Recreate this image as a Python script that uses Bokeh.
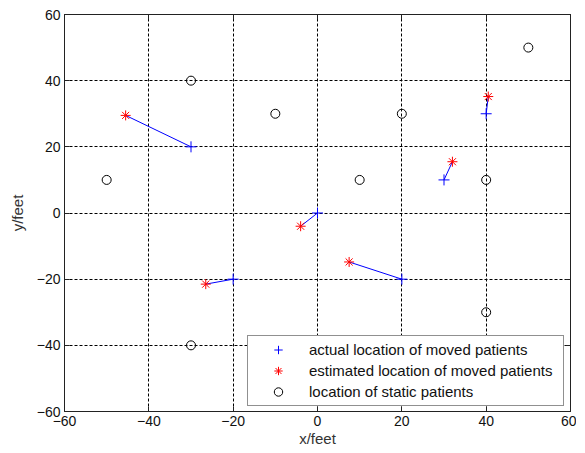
from bokeh.plotting import figure
from bokeh.models import LinearAxis, Legend, LegendItem, FixedTicker, Range1d
from bokeh.embed import file_html
from bokeh.resources import INLINE

# actual locations of moved patients
act_x = [-30, -20, 0, 20, 30, 40]
act_y = [20, -20, 0, -20, 10, 30]
# estimated locations of moved patients
est_x = [-45.5, -26.5, -4, 7.5, 32, 40.5]
est_y = [29.5, -21.5, -4, -14.8, 15.5, 35.2]
# static patients
sta_x = [-30, -10, 20, 50, -50, 10, 40, 40, -30]
sta_y = [40, 30, 30, 50, 10, 10, 10, -30, -40]

ticks = [-60, -40, -20, 0, 20, 40, 60]
FONT = "Liberation Sans"

p = figure(width=576, height=449, output_backend="svg", toolbar_location=None,
           x_range=Range1d(-60, 60), y_range=Range1d(-60, 60),
           min_border_left=64, min_border_right=6, min_border_top=14, min_border_bottom=37)
p.background_fill_color = "white"
p.border_fill_color = "white"
p.outline_line_color = "#222222"
p.outline_line_width = 1

for ax in [p.xaxis[0], p.yaxis[0]]:
    ax.ticker = FixedTicker(ticks=ticks)
    ax.major_tick_in = 5
    ax.major_tick_out = 0
    ax.minor_tick_line_color = None
    ax.axis_line_color = "#222222"
    ax.major_tick_line_color = "#222222"
    ax.major_label_text_font = FONT
    ax.major_label_text_font_size = "14px"
    ax.major_label_text_color = "#111111"
    ax.axis_label_text_font = FONT
    ax.axis_label_text_font_size = "15px"
    ax.axis_label_text_font_style = "normal"
    ax.axis_label_text_color = "#333333"
    ax.major_label_standoff = 4

p.xaxis[0].axis_label = "x/feet"
p.xaxis[0].axis_label_standoff = 1
p.yaxis[0].axis_label = "y/feet"
p.yaxis[0].axis_label_standoff = 8

for loc in ["above", "right"]:
    a = LinearAxis(ticker=FixedTicker(ticks=ticks), major_label_text_font_size="0px",
                   major_tick_in=5, major_tick_out=0, minor_tick_line_color=None,
                   axis_line_color="#222222", major_tick_line_color="#222222",
                   major_label_standoff=0)
    a.major_label_overrides = {t: "" for t in ticks}
    p.add_layout(a, loc)

p.xgrid.ticker = FixedTicker(ticks=ticks)
p.ygrid.ticker = FixedTicker(ticks=ticks)
for g in [p.xgrid[0], p.ygrid[0]]:
    g.grid_line_color = "black"
    g.grid_line_dash = "3 2"
    g.grid_line_width = 1

# connecting lines
xs = [[a, e] for a, e in zip(act_x, est_x)]
ys = [[a, e] for a, e in zip(act_y, est_y)]
p.multi_line(xs, ys, line_color="blue", line_width=1)

r_act = p.scatter(act_x, act_y, marker="cross", size=11, line_color="blue", line_width=1)
r_est = p.scatter(est_x, est_y, marker="asterisk", size=10, line_color="red", line_width=1)
r_sta = p.scatter(sta_x, sta_y, marker="circle", size=9, line_color="black",
                  fill_color=None, line_width=1)

legend = Legend(items=[
    LegendItem(label="actual location of moved patients", renderers=[r_act]),
    LegendItem(label="estimated location of moved patients", renderers=[r_est]),
    LegendItem(label="location of static patients", renderers=[r_sta]),
], location=(183, 5))
legend.label_text_font = FONT
legend.label_text_font_size = "15px"
legend.label_text_color = "#111111"
legend.padding = 3
legend.glyph_width = 54
legend.glyph_height = 21
legend.label_height = 21
legend.label_width = 251
legend.label_standoff = 4
legend.spacing = 0
legend.margin = 0
legend.border_line_color = "#222222"
legend.border_line_width = 1
legend.background_fill_alpha = 1.0
p.add_layout(legend, "center")

open("out.html", "w").write(file_html(p, INLINE))
